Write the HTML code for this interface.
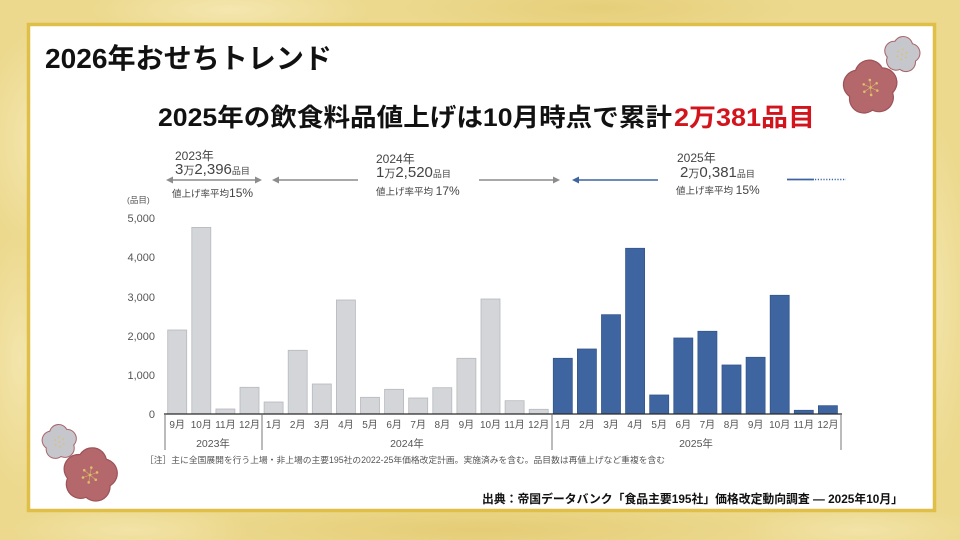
<!DOCTYPE html>
<html><head><meta charset="utf-8">
<style>
html,body{margin:0;padding:0;width:960px;height:540px;overflow:hidden;background:#ecd98e;}
svg{display:block;}
text{font-family:"Liberation Sans","Noto Sans CJK JP",sans-serif;}
</style></head>
<body>
<svg width="960" height="540" viewBox="0 0 960 540" xmlns="http://www.w3.org/2000/svg">
<defs>
 <radialGradient id="b1" cx="0.5" cy="0.5" r="0.5"><stop offset="0" stop-color="#f6eab8"/><stop offset="1" stop-color="#f6eab8" stop-opacity="0"/></radialGradient>
 <radialGradient id="b2" cx="0.5" cy="0.5" r="0.5"><stop offset="0" stop-color="#e0c466"/><stop offset="1" stop-color="#e0c466" stop-opacity="0"/></radialGradient>
 <g id="redF">
  <g fill="#9c5257">
   <circle cx="0" cy="-13" r="15"/><circle cx="12.4" cy="-4" r="15"/><circle cx="7.6" cy="10.5" r="15"/><circle cx="-7.6" cy="10.5" r="15"/><circle cx="-12.4" cy="-4" r="15"/>
  </g>
  <g fill="#b4686c">
   <circle cx="0" cy="-13" r="13.8"/><circle cx="12.4" cy="-4" r="13.8"/><circle cx="7.6" cy="10.5" r="13.8"/><circle cx="-7.6" cy="10.5" r="13.8"/><circle cx="-12.4" cy="-4" r="13.8"/><circle cx="0" cy="0" r="14"/>
  </g>
  <g stroke="#d4b464" stroke-width="0.6">
   <line x1="0" y1="0" x2="0" y2="-7"/><line x1="0" y1="0" x2="6.1" y2="-3.5"/><line x1="0" y1="0" x2="6.1" y2="3.5"/><line x1="0" y1="0" x2="0" y2="7"/><line x1="0" y1="0" x2="-6.1" y2="3.5"/><line x1="0" y1="0" x2="-6.1" y2="-3.5"/>
  </g>
  <g fill="#dcc06c">
   <circle cx="0" cy="-7.5" r="1.3"/><circle cx="6.5" cy="-3.7" r="1.3"/><circle cx="6.5" cy="3.7" r="1.3"/><circle cx="0" cy="7.5" r="1.3"/><circle cx="-6.5" cy="3.7" r="1.3"/><circle cx="-6.5" cy="-3.7" r="1.3"/><circle cx="0" cy="0" r="1.3"/>
  </g>
 </g>
 <g id="grayF">
  <g fill="#a8676c">
   <circle cx="0" cy="-13" r="15.2"/><circle cx="12.4" cy="-4" r="15.2"/><circle cx="7.6" cy="10.5" r="15.2"/><circle cx="-7.6" cy="10.5" r="15.2"/><circle cx="-12.4" cy="-4" r="15.2"/>
  </g>
  <g fill="#c6c7cc">
   <circle cx="0" cy="-13" r="13.6"/><circle cx="12.4" cy="-4" r="13.6"/><circle cx="7.6" cy="10.5" r="13.6"/><circle cx="-7.6" cy="10.5" r="13.6"/><circle cx="-12.4" cy="-4" r="13.6"/><circle cx="0" cy="0" r="14"/>
  </g>
  <g fill="#d8c07a">
   <circle cx="0" cy="-7.5" r="1.4"/><circle cx="6.5" cy="-3.7" r="1.4"/><circle cx="6.5" cy="3.7" r="1.4"/><circle cx="0" cy="7.5" r="1.4"/><circle cx="-6.5" cy="3.7" r="1.4"/><circle cx="-6.5" cy="-3.7" r="1.4"/><circle cx="0" cy="0" r="1.4"/>
  </g>
 </g>
</defs>

<!-- background texture -->
<rect x="0" y="0" width="960" height="540" fill="#ecd98e"/>
<ellipse cx="40" cy="140" rx="60" ry="110" fill="url(#b1)" opacity="0.8"/>
<ellipse cx="230" cy="10" rx="140" ry="30" fill="url(#b1)" opacity="0.8"/>
<ellipse cx="600" cy="8" rx="200" ry="30" fill="url(#b2)" opacity="0.5"/>
<ellipse cx="930" cy="300" rx="40" ry="180" fill="url(#b1)" opacity="0.7"/>
<ellipse cx="20" cy="360" rx="40" ry="130" fill="url(#b1)" opacity="0.7"/>
<ellipse cx="480" cy="530" rx="300" ry="30" fill="url(#b2)" opacity="0.6"/>
<ellipse cx="860" cy="530" rx="120" ry="25" fill="url(#b1)" opacity="0.6"/>
<ellipse cx="130" cy="530" rx="120" ry="25" fill="url(#b1)" opacity="0.6"/>

<!-- panel -->
<rect x="28.5" y="24.5" width="906" height="486" fill="#ffffff" stroke="#e0bf48" stroke-width="3.5"/>

<!-- flowers -->
<use href="#grayF" transform="translate(902,54.5) scale(0.66) rotate(8)"/>
<use href="#redF" transform="translate(870.5,87.5) rotate(-5)"/>
<use href="#grayF" transform="translate(59.5,442) scale(0.64) rotate(-6)"/>
<use href="#redF" transform="translate(90,475) rotate(10)"/>

<!-- titles -->
<text x="45" y="68" font-size="28" font-weight="bold" fill="#111" textLength="287" lengthAdjust="spacingAndGlyphs">2026年おせちトレンド</text>
<text x="158" y="126" font-size="25" font-weight="bold" fill="#111" textLength="514" lengthAdjust="spacingAndGlyphs">2025年の飲食料品値上げは10月時点で累計</text>
<text x="674" y="126" font-size="25" font-weight="bold" fill="#d2141c" textLength="141" lengthAdjust="spacingAndGlyphs">2万381品目</text>

<!-- header annotations -->
<g fill="#444">
 <text x="175" y="160" font-size="12">2023年</text>
 <text x="175" y="174"><tspan font-size="15">3</tspan><tspan font-size="11">万</tspan><tspan font-size="15">2,396</tspan><tspan font-size="9">品目</tspan></text>
 <text x="172" y="197"><tspan font-size="9.5">値上げ率平均</tspan><tspan font-size="12">15%</tspan></text>

 <text x="376" y="163" font-size="12">2024年</text>
 <text x="376" y="177"><tspan font-size="15">1</tspan><tspan font-size="11">万</tspan><tspan font-size="15">2,520</tspan><tspan font-size="9">品目</tspan></text>
 <text x="376" y="195"><tspan font-size="9.5">値上げ率平均 </tspan><tspan font-size="12">17%</tspan></text>

 <text x="677" y="162" font-size="12">2025年</text>
 <text x="680" y="177"><tspan font-size="15">2</tspan><tspan font-size="11">万</tspan><tspan font-size="15">0,381</tspan><tspan font-size="9">品目</tspan></text>
 <text x="676" y="194"><tspan font-size="9.5">値上げ率平均 </tspan><tspan font-size="12">15%</tspan></text>
</g>
<!-- arrows -->
<g stroke="#8c8c8c" stroke-width="1.6">
 <line x1="170" y1="180" x2="258" y2="180"/>
 <line x1="276" y1="180" x2="358" y2="180"/>
 <line x1="479" y1="180" x2="556" y2="180"/>
</g>
<g fill="#8c8c8c">
 <polygon points="166,180 173,176.5 173,183.5"/>
 <polygon points="262,180 255,176.5 255,183.5"/>
 <polygon points="272,180 279,176.5 279,183.5"/>
 <polygon points="560,180 553,176.5 553,183.5"/>
</g>
<line x1="576" y1="180" x2="658" y2="180" stroke="#3d64a0" stroke-width="1.6"/>
<polygon points="572,180 579,176.5 579,183.5" fill="#3d64a0"/>
<line x1="787" y1="179.5" x2="814" y2="179.5" stroke="#3d64a0" stroke-width="1.8"/>
<line x1="815" y1="179.5" x2="846" y2="179.5" stroke="#3d64a0" stroke-width="1.5" stroke-dasharray="1.2,1.6"/>

<!-- y axis labels -->
<g fill="#555" font-size="11" text-anchor="end">
 <text x="155" y="222">5,000</text>
 <text x="155" y="261">4,000</text>
 <text x="155" y="301">3,000</text>
 <text x="155" y="340">2,000</text>
 <text x="155" y="379">1,000</text>
 <text x="155" y="418">0</text>
</g>
<text x="127" y="203" font-size="8.5" fill="#555">(品目)</text>

<!-- bars gray -->
<g fill="#d3d5d8" stroke="#b6b9bd" stroke-width="0.8">
 <rect x="167.7" y="330" width="19" height="84"/>
 <rect x="191.8" y="227.4" width="19" height="186.6"/>
 <rect x="215.9" y="409" width="19" height="5"/>
 <rect x="240.0" y="387.3" width="19" height="26.7"/>
 <rect x="264.1" y="402" width="19" height="12"/>
 <rect x="288.2" y="350.3" width="19" height="63.7"/>
 <rect x="312.3" y="384" width="19" height="30"/>
 <rect x="336.4" y="300" width="19" height="114"/>
 <rect x="360.5" y="397.3" width="19" height="16.7"/>
 <rect x="384.6" y="389.3" width="19" height="24.7"/>
 <rect x="408.7" y="398" width="19" height="16"/>
 <rect x="432.8" y="387.7" width="19" height="26.3"/>
 <rect x="456.9" y="358.3" width="19" height="55.7"/>
 <rect x="481.0" y="299" width="19" height="115"/>
 <rect x="505.1" y="400.7" width="19" height="13.3"/>
 <rect x="529.2" y="409.3" width="19" height="4.7"/>
</g>
<!-- bars blue -->
<g fill="#3f65a1" stroke="#33558c" stroke-width="0.8">
 <rect x="553.3" y="358.3" width="19" height="55.7"/>
 <rect x="577.4" y="349" width="19" height="65"/>
 <rect x="601.5" y="314.7" width="19" height="99.3"/>
 <rect x="625.6" y="248.3" width="19" height="165.7"/>
 <rect x="649.7" y="395" width="19" height="19"/>
 <rect x="673.8" y="338" width="19" height="76"/>
 <rect x="697.9" y="331.3" width="19" height="82.7"/>
 <rect x="722.0" y="365" width="19" height="49"/>
 <rect x="746.1" y="357.3" width="19" height="56.7"/>
 <rect x="770.2" y="295.3" width="19" height="118.7"/>
 <rect x="794.3" y="410.3" width="19" height="3.7"/>
 <rect x="818.4" y="405.7" width="19" height="8.3"/>
</g>

<!-- axis -->
<line x1="164" y1="414" x2="842" y2="414" stroke="#2a2a2a" stroke-width="1.3"/>
<g stroke="#777" stroke-width="1">
 <line x1="165" y1="414" x2="165" y2="450"/>
 <line x1="262" y1="414" x2="262" y2="450"/>
 <line x1="552" y1="414" x2="552" y2="450"/>
 <line x1="841" y1="414" x2="841" y2="450"/>
</g>

<!-- month labels -->
<g fill="#555" font-size="10" text-anchor="middle">
 <text x="177.2" y="428">9月</text><text x="201.3" y="428">10月</text><text x="225.4" y="428">11月</text><text x="249.5" y="428">12月</text>
 <text x="273.6" y="428">1月</text><text x="297.7" y="428">2月</text><text x="321.8" y="428">3月</text><text x="345.9" y="428">4月</text>
 <text x="370.0" y="428">5月</text><text x="394.1" y="428">6月</text><text x="418.2" y="428">7月</text><text x="442.3" y="428">8月</text>
 <text x="466.4" y="428">9月</text><text x="490.5" y="428">10月</text><text x="514.6" y="428">11月</text><text x="538.7" y="428">12月</text>
 <text x="562.8" y="428">1月</text><text x="586.9" y="428">2月</text><text x="611.0" y="428">3月</text><text x="635.1" y="428">4月</text>
 <text x="659.2" y="428">5月</text><text x="683.3" y="428">6月</text><text x="707.4" y="428">7月</text><text x="731.5" y="428">8月</text>
 <text x="755.6" y="428">9月</text><text x="779.7" y="428">10月</text><text x="803.8" y="428">11月</text><text x="827.9" y="428">12月</text>
</g>
<g fill="#555" font-size="10.5" text-anchor="middle">
 <text x="213" y="447">2023年</text>
 <text x="407" y="447">2024年</text>
 <text x="696" y="447">2025年</text>
</g>

<!-- footnote -->
<text x="145" y="463" font-size="8.8" fill="#555" textLength="520" lengthAdjust="spacingAndGlyphs">［注］主に全国展開を行う上場・非上場の主要195社の2022-25年価格改定計画。実施済みを含む。品目数は再値上げなど重複を含む</text>

<!-- source -->
<text x="482" y="503" font-size="12" font-weight="bold" fill="#111" textLength="421" lengthAdjust="spacingAndGlyphs">出典：帝国データバンク「食品主要195社」価格改定動向調査 ― 2025年10月」</text>
</svg>
</body></html>
